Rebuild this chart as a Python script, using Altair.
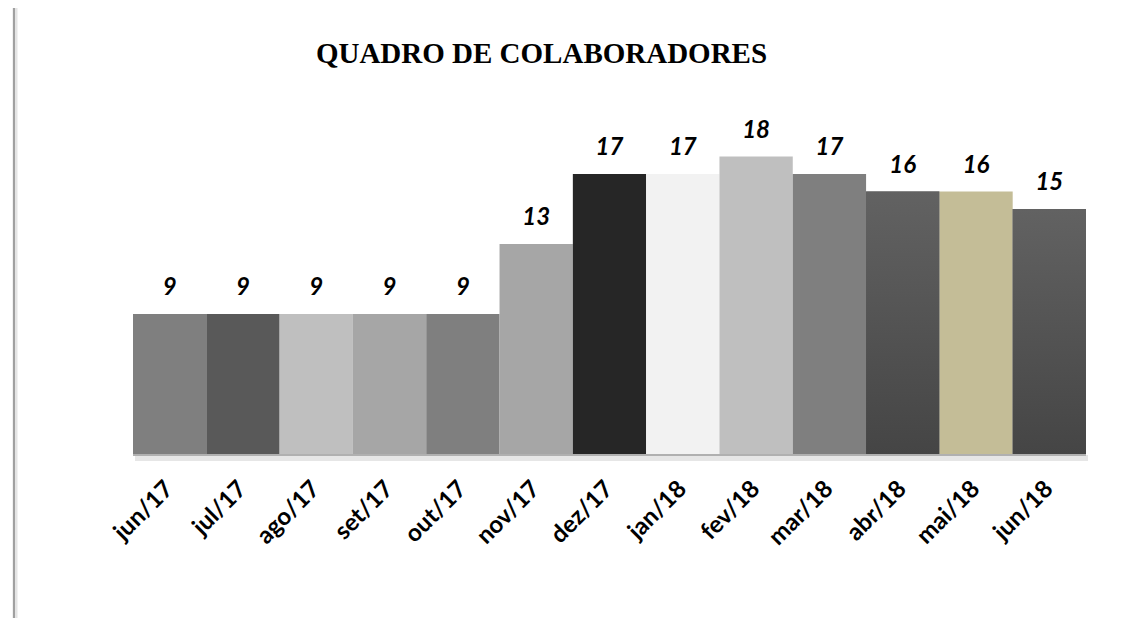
import altair as alt
import pandas as pd

months = ["jun/17", "jul/17", "ago/17", "set/17", "out/17", "nov/17", "dez/17",
          "jan/18", "fev/18", "mar/18", "abr/18", "mai/18", "jun/18"]
values = [9, 9, 9, 9, 9, 13, 17, 17, 18, 17, 16, 16, 15]
colors = ["#7f7f7f", "#595959", "#bfbfbf", "#a6a6a6", "#7f7f7f", "#a6a6a6", "#262626",
          "#f2f2f2", "#bfbfbf", "#7f7f7f", "#565656", "#c4bd97", "#545454"]
gradient_months = ["abr/18", "jun/18"]
title_text = "QUADRO DE COLABORADORES"

df = pd.DataFrame({"month": months, "value": values, "color": colors})
df["grad"] = df["month"].isin(gradient_months)

W, H = 953, 350
PL, PT = 125, 96

x = alt.X("month:N", sort=months,
          scale=alt.Scale(paddingInner=0, paddingOuter=0),
          axis=alt.Axis(title=None, labelAngle=-45, labelAlign="right", labelBaseline="middle",
                        labelFont="Lato", labelFontWeight="bold", labelFontSize=24,
                        labelColor="black", labelPadding=31, ticks=False, domain=False,
                        grid=False))
y = alt.Y("value:Q", scale=alt.Scale(domain=[1, 21], zero=False, nice=False), axis=None)

base = alt.Chart(df)

bars = base.mark_bar().encode(x=x, y=y, y2=alt.datum(1),
                              fill=alt.Fill("color:N", scale=None))

grad = alt.LinearGradient(gradient="linear",
                          stops=[alt.GradientStop(color="#626262", offset=0),
                                 alt.GradientStop(color="#454545", offset=1)],
                          x1=0, x2=0, y1=0, y2=1)
grad_bars = base.transform_filter(alt.datum.grad == True).mark_bar(fill=grad).encode(
    x=x, y=y, y2=alt.datum(1))

labels = base.mark_text(font="Lato", fontStyle="italic", fontWeight="bold", fontSize=24,
                        baseline="alphabetic", dy=-19, color="black").encode(
    x=x, y=y, text="value:Q")

one = pd.DataFrame({"t": [title_text]})
title = alt.Chart(one).mark_text(font="Liberation Serif", fontWeight="bold", fontSize=29,
                                 align="center", baseline="alphabetic", color="black").encode(
    x=alt.value(541.5 - 8 - PL), y=alt.value(63 - 8 - PT), text="t:N")

shadow1 = alt.Chart(one).mark_rule(color="#e6e6e6", strokeWidth=6).encode(
    x=alt.value(2), x2=alt.value(W + 2), y=alt.value(H + 4))
shadow2 = alt.Chart(one).mark_rule(color="#b0b0b0", strokeWidth=2).encode(
    x=alt.value(0), x2=alt.value(W), y=alt.value(H + 1))

border1 = alt.Chart(one).mark_rule(color="#e4e4e4", strokeWidth=5).encode(
    x=alt.value(15 - 8 - PL), y=alt.value(-PT), y2=alt.value(610 - PT))
border2 = alt.Chart(one).mark_rule(color="#a0a0a0", strokeWidth=2).encode(
    x=alt.value(14 - 8 - PL), y=alt.value(-PT), y2=alt.value(610 - PT))

chart = alt.layer(border1, border2, shadow1, shadow2, bars, grad_bars, labels, title).properties(
    width=W, height=H,
    autosize=alt.AutoSizeParams(type="none"),
    padding={"left": PL, "top": PT, "right": 1117 - PL - W, "bottom": 610 - PT - H},
    background="white",
).configure_view(stroke=None)

chart.save("out.html", embed_options={"renderer": "svg", "actions": False})
